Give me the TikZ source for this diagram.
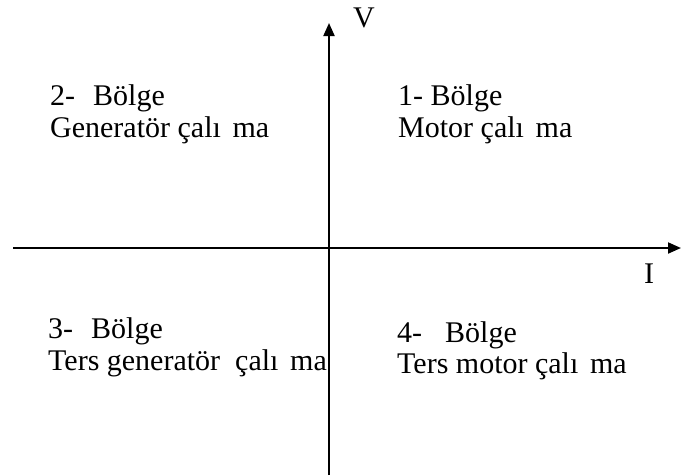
\documentclass[tikz,border=0pt]{standalone}
\usepackage{fontspec}
\setmainfont{Liberation Serif}
\usetikzlibrary{arrows.meta}
\begin{document}
\begin{tikzpicture}[x=1pt,y=-1pt,
  lbl/.style={anchor=base west,inner sep=0pt,font=\fontsize{30}{32}\selectfont},
  axis/.style={line width=2pt,-{Triangle[length=13pt,width=11pt]}}]
\useasboundingbox (0,0) rectangle (681,475);
\coordinate (xs) at (13,248);
\coordinate (xe) at (681,248);
\coordinate (ys) at (329,475);
\coordinate (ye) at (329,23);
\draw[axis] (xs) -- (xe);
\draw[axis] (ys) -- (ye);
\node[lbl] (V) at (353,27) {V};
\node[lbl] (I) at (644,283) {I};
% quadrant 2
\node[lbl] (q2a) at (50,105) {2-\hspace{18pt}Bölge};
\node[lbl] (q2b) at (50,137) {Generatör çalı\phantom{ş}ma};
% quadrant 1
\node[lbl] (q1a) at (398,105) {1- Bölge};
\node[lbl] (q1b) at (398,137) {Motor çalı\phantom{ş}ma};
% quadrant 3
\node[lbl] (q3a) at (48,338) {3-\hspace{18pt}Bölge};
\node[lbl] (q3b) at (48,370) {Ters generatör \ çalı\phantom{ş}ma};
% quadrant 4
\node[lbl] (q4a) at (397,342) {4-\hspace{23pt}Bölge};
\node[lbl] (q4b) at (397,373) {Ters motor çalı\phantom{ş}ma};
\end{tikzpicture}
\end{document}
